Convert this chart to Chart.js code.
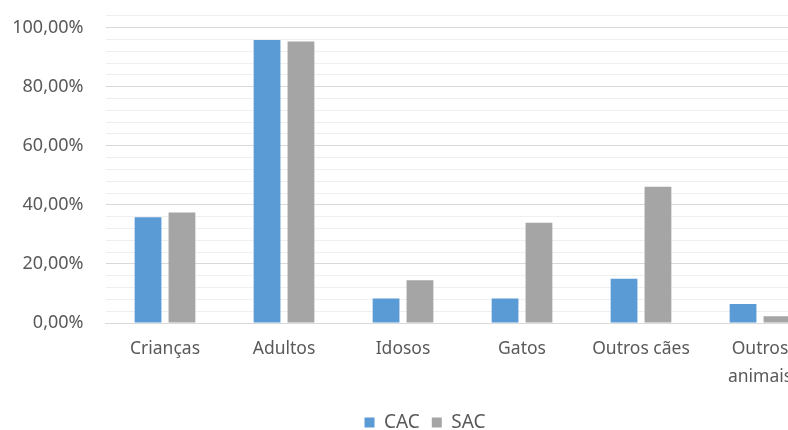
<!DOCTYPE html>
<html>
<head>
<meta charset="utf-8">
<script src="https://cdn.jsdelivr.net/npm/chart.js@4/dist/chart.umd.min.js"></script>
<style>
  html, body { margin: 0; padding: 0; background: #fff; overflow: hidden; }
  #wrap { width: 788px; height: 430px; overflow: hidden; }
  #box { width: 850px; height: 447px; margin-top: -17px; }
</style>
</head>
<body>
<div id="wrap"><div id="box"><canvas id="chart"></canvas></div></div>
<script>
// Categories and series (fractions of 1)
const categories = ['Crianças', 'Adultos', 'Idosos', 'Gatos', 'Outros cães', ['Outros', 'animais']];
const cacValues = [0.358, 0.958, 0.083, 0.083, 0.150, 0.064];
const sacValues = [0.374, 0.953, 0.145, 0.339, 0.461, 0.023];
const seriesNames = ['CAC', 'SAC'];

const textColor = '#595959';
const family = '"Noto Sans", sans-serif';

// labels only on the 20% steps, minor lines every 4%
function pctLabel(v) {
    const p = Math.round(v * 100);
    if (p % 20 !== 0 || p > 100) return '';
    return p.toFixed(2).replace('.', ',') + '%';
}

new Chart(document.getElementById('chart'), {
    type: 'bar',
    data: {
        labels: categories,
        datasets: [
            { label: seriesNames[0], data: cacValues, backgroundColor: '#5B9BD5' },
            { label: seriesNames[1], data: sacValues, backgroundColor: '#A5A5A5' }
        ]
    },
    options: {
        responsive: true,
        maintainAspectRatio: false,
        animation: false,
        layout: { padding: { top: 0, bottom: -12, left: 0, right: 0 } },
        datasets: { bar: { categoryPercentage: 0.57, barPercentage: 0.79 } },
        plugins: {
            legend: {
                position: 'bottom',
                labels: { color: textColor, font: { family, size: 19 }, boxWidth: 10, boxHeight: 10, padding: 12 }
            },
            tooltip: { enabled: false }
        },
        scales: {
            x: {
                afterFit: s => { s.height -= 2; },
                grid: { display: false, drawTicks: false },
                border: { color: '#D9D9D9' },
                ticks: { color: textColor, font: { family, size: 17.5, lineHeight: 1.6 }, padding: 12, maxRotation: 0, autoSkip: false }
            },
            y: {
                min: 0,
                max: 1.04,
                afterFit: s => { s.width = 105.5; },
                grid: {
                    drawTicks: false,
                    color: c => (Math.round(c.tick.value * 100) % 20 === 0 ? '#D9D9D9' : '#EFEFEF')
                },
                border: { display: false },
                ticks: {
                    stepSize: 0.04,
                    autoSkip: false,
                    color: textColor,
                    font: { family, size: 18 },
                    padding: 22,
                    callback: v => pctLabel(v)
                }
            },
            y2: {
                position: 'right',
                display: true,
                afterFit: s => { s.width = 30.5; },
                grid: { display: false },
                border: { display: false },
                ticks: { display: false }
            }
        }
    }
});
</script>
</body>
</html>
